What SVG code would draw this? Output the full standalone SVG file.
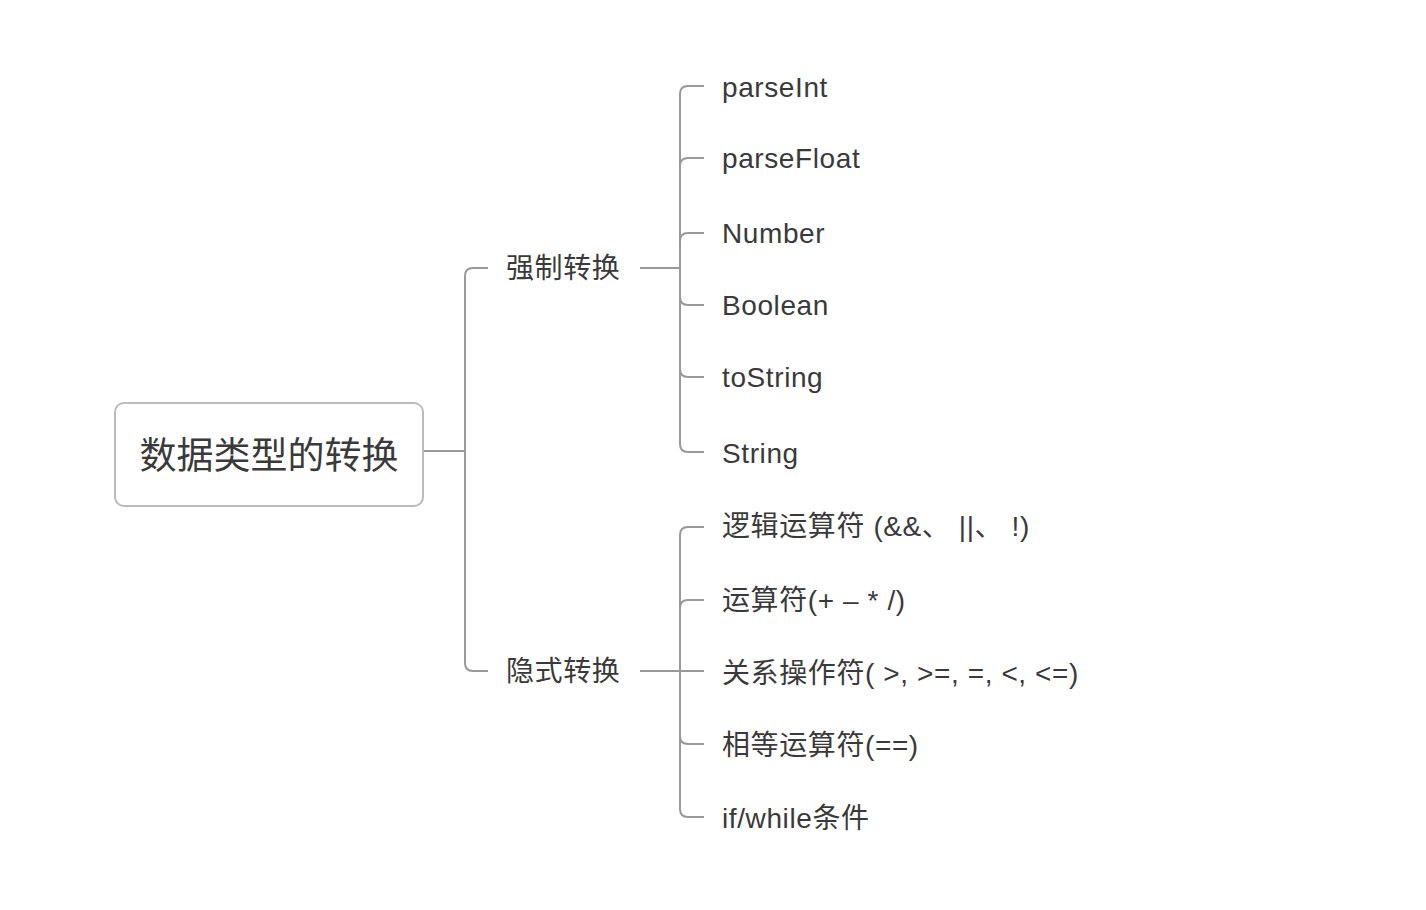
<svg xmlns="http://www.w3.org/2000/svg" width="1426" height="910" viewBox="0 0 1426 910">
<style>
.ln{fill:none;stroke:#999;stroke-width:2}
.t{font-family:"Liberation Sans","Noto Sans CJK SC",sans-serif;font-size:28px;fill:#3a3a3a;letter-spacing:0.6px}
.root{font-family:"Noto Sans CJK SC",sans-serif;font-size:37px;fill:#3a3a3a}
</style>
<rect width="1426" height="910" fill="#fff"/>
<g id="connectors">
<path class="ln" d="M423 451H465"/>
<path class="ln" d="M465 451V276Q465 268 473 268H488"/>
<path class="ln" d="M465 451V663Q465 671 473 671H488"/>
<path class="ln" d="M640 268H680"/>
<path class="ln" d="M680 268V94Q680 86 688 86H704"/>
<path class="ln" d="M680 268V166Q680 158 688 158H704"/>
<path class="ln" d="M680 268V241Q680 233 688 233H704"/>
<path class="ln" d="M680 268V297Q680 305 688 305H704"/>
<path class="ln" d="M680 268V369Q680 377 688 377H704"/>
<path class="ln" d="M680 268V444Q680 452 688 452H704"/>
<path class="ln" d="M640 671H704"/>
<path class="ln" d="M680 671V535Q680 527 688 527H704"/>
<path class="ln" d="M680 671V608Q680 600 688 600H704"/>
<path class="ln" d="M680 671V736Q680 744 688 744H704"/>
<path class="ln" d="M680 671V809Q680 817 688 817H704"/>
</g>
<g id="root">
<rect x="115" y="403" width="308" height="103" rx="9" fill="#fff" stroke="#bbb" stroke-width="2"/>
<text class="root" x="269" y="469" text-anchor="middle">数据类型的转换</text>
</g>
<g id="n-qiangzhi"><text class="t" x="506" y="278">强制转换</text></g>
<g id="n-yinshi"><text class="t" x="506" y="681">隐式转换</text></g>
<g id="n-parseInt"><text class="t" x="722" y="97">parseInt</text></g>
<g id="n-parseFloat"><text class="t" x="722" y="168">parseFloat</text></g>
<g id="n-Number"><text class="t" x="722" y="243">Number</text></g>
<g id="n-Boolean"><text class="t" x="722" y="315">Boolean</text></g>
<g id="n-toString"><text class="t" x="722" y="387">toString</text></g>
<g id="n-String"><text class="t" x="722" y="463">String</text></g>
<g id="n-logic"><text class="t" x="722" y="536">逻辑运算符 (&amp;&amp;、 ||、 !)</text></g>
<g id="n-arith"><text class="t" x="722" y="610">运算符(+ – * /)</text></g>
<g id="n-rel"><text class="t" x="722" y="683">关系操作符( &gt;, &gt;=, =, &lt;, &lt;=)</text></g>
<g id="n-eq"><text class="t" x="722" y="755">相等运算符(==)</text></g>
<g id="n-if"><text class="t" x="722" y="828">if/while条件</text></g>
</svg>
